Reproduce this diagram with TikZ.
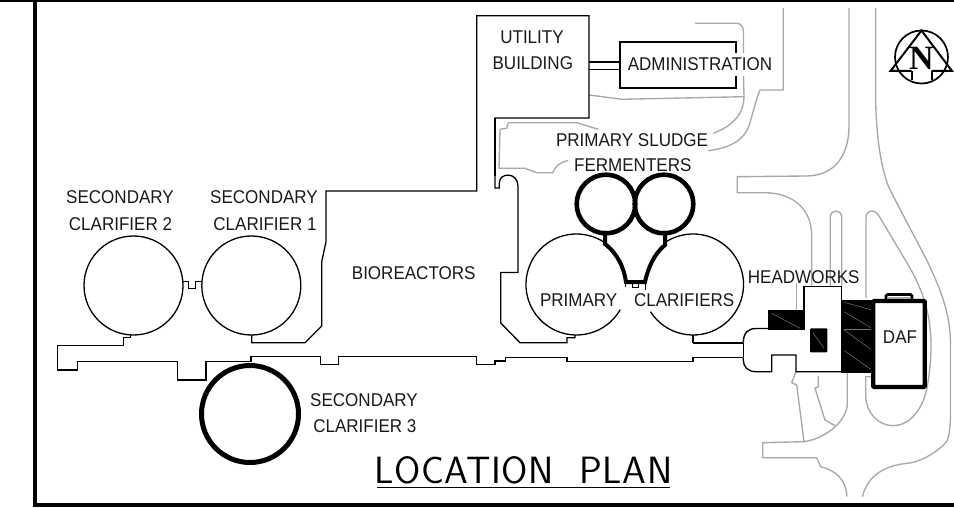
\documentclass[tikz,border=0pt]{standalone}
\usepackage{fontspec}
\setmainfont{Liberation Sans}
\newfontfamily\northfont{Liberation Serif}
\newfontfamily\lblfont[FakeStretch=0.92]{Liberation Sans}
\setsansfont{Latin Modern Sans}
\definecolor{roadgray}{HTML}{A8A8A8}
\begin{document}
\begin{tikzpicture}[x=1pt,y=-1pt,line join=miter,
  outline/.style={draw=black,line width=1.3pt},
  road/.style={draw=roadgray,line width=1.35pt},
  hatch/.style={draw=roadgray!70!black,line width=0.5pt},
  lbl/.style={inner sep=0pt,font=\lblfont\fontsize{18.5}{20}\selectfont,text=black!90}]
\useasboundingbox (0,0) rectangle (954,508);
\fill[white] (0,0) rectangle (954,508);
% roads
\draw[road] (695,23.3) -- (736.7,23.3) .. controls (741,23.3) and (743.5,27) .. (743.5,32) -- (743.5,53);
\draw[road] (743.5,76) -- (744,96.7) .. controls (744,112) and (735,125) .. (713.3,133.3);
\draw[road] (589.3,95) -- (621.7,99.3) -- (744,96.7);
\draw[road] (783.3,8) -- (783.3,90) -- (760,90) -- (757,98) -- (749,126) .. controls (744,140) and (730,148) .. (708.3,150.7);
\draw[road] (849,8) -- (849,126) .. controls (849,155) and (835,176) .. (806,176) -- (737.3,176.7) -- (737.3,192.7) -- (765,192.7) .. controls (792,193) and (811.7,208) .. (811.7,236) -- (811.7,286.7);
\draw[road] (796.7,283) -- (796.7,310);
\draw[road] (830.3,286.7) -- (830.3,217) .. controls (830.3,209) and (841.7,209) .. (841.7,217) -- (841.7,286.7);
\draw[road] (866,298) -- (866,218) .. controls (866,209) and (875,209) .. (879,216) -- (903.3,256.7) .. controls (925,292) and (938,325) .. (927,388) .. controls (922,412) and (908,425.7) .. (893,425.7) .. controls (878,425.7) and (865.7,412) .. (865.7,396) -- (865.7,376.7) -- (872,376.7);
\draw[road] (875.7,8) -- (875.7,100) .. controls (876,130) and (880,168) .. (890,190) -- (926.7,260) .. controls (942,292) and (950.5,315) .. (950.5,345) -- (950.5,410) .. controls (950.5,425) and (950,432) .. (947,441) .. controls (940,450) and (925,460) .. (910,463) .. controls (885,465) and (868,475) .. (862.3,496.7);
\draw[road] (847.3,371.7) -- (847.3,405) .. controls (846,420) and (828,438) .. (804,441.7) -- (762.7,442.7) -- (762.7,457.7) -- (816.7,457.7) -- (820.7,466.7) .. controls (835,470) and (847,480) .. (846.7,496.7);
\draw[road] (796,371.7) -- (791.7,382.7) -- (796.7,385) -- (804,441.7);
\draw[road] (818.3,375.7) -- (818.3,386.7) -- (815,388.3) -- (825,420) -- (835,425.7);
\draw[road] (598.3,129.3) -- (576.7,122.7) -- (508.3,122.7) -- (506.7,128.3) -- (500,129.3) -- (499,168.3) -- (525,168.3) -- (536.7,172.7) -- (552.7,172.7) .. controls (555,167) and (560,161.5) .. (568.3,160.7);
% border
\draw[line width=3pt] (0,0.5) -- (954,0.5);
\draw[line width=4pt] (35.3,0) -- (35.3,505) -- (954,505);
% utility / bioreactor / secondary outline
\draw[outline] (251.7,335) -- (251.7,342.7) -- (305,342.7) -- (321.7,326) -- (321.7,261.7) -- (326,241.7) -- (326,191) -- (476.7,191) -- (476.7,15.7) -- (589,15.7) -- (589,118) -- (495,118) -- (495,188) -- (499.3,188) -- (499.3,183) .. controls (499.3,172) and (518,172) .. (518,186) -- (518,272.5) -- (500.7,272.5) -- (500.7,323) -- (520,342.7) -- (567,342.7) -- (567,337.7) -- (575,337.7) -- (575,335);
\draw[line width=1.8pt] (495,118) -- (495,176);
\draw[outline] (620.2,309.75) arc[start angle=-30,end angle=-302,radius=50.5pt];
\draw[outline] (650.5,311.7) arc[start angle=212.6,end angle=485,radius=50.5pt];
\node[circle,draw,line width=1.3pt,minimum size=99pt,inner sep=0pt] (sc2) at (133.5,285.5) {};
\node[circle,draw,line width=1.3pt,minimum size=99pt,inner sep=0pt] (sc1) at (251.3,285.5) {};
\draw[outline] (182.7,281.7) -- (188.3,281.7) -- (188.3,288.3) -- (195.7,288.3) -- (195.7,281.7) -- (202,281.7);
\draw[outline] (130.7,335) -- (130.7,337.3) -- (123.3,337.3) -- (123.3,345.7) -- (57.7,345.7) -- (57.7,370) -- (77.7,370) -- (77.7,361.7) -- (177.7,361.7) -- (177.7,380) -- (206,380) -- (206,361.7) -- (251,361.7) -- (251,356.7) -- (320.7,356.7) -- (320.7,364.7) -- (338.7,364.7) -- (338.7,356.7) -- (476.7,356.7) -- (476.7,364.7) -- (495,364.7) -- (495,361) -- (505.7,361) -- (505.7,357.3) -- (567,357.3) -- (567,361.7) -- (693,361.7) -- (693,357.3) -- (743.3,357.3);
\draw[outline] (693,335) -- (693,342.7);
\draw[line width=1.7pt] (692.5,342.7) -- (743.3,342.7);
% administration
\draw[line width=1.6pt] (736,53) -- (736,42.3) -- (620,42.3) -- (620,88.3) -- (736,88.3) -- (736,76);
\draw[outline] (589,62) -- (620,62);
\draw[outline] (589,69.3) -- (620,69.3);
% fermenters
\node[circle,draw,line width=4.6pt,minimum size=58.5pt,inner sep=0pt] (f1) at (606,204) {};
\node[circle,draw,line width=4.6pt,minimum size=58.5pt,inner sep=0pt] (f2) at (664,204) {};
\draw[line width=4pt] (605,231) -- (605,244) .. controls (618,254) and (624,268) .. (626,282) -- (645,282) .. controls (648,268) and (654,254) .. (665,245) -- (665,231);
\draw[line width=0.9pt] (632,283) -- (632,287.5) -- (638.5,287.5) -- (638.5,283);
\draw[line width=0.9pt] (625,283) -- (625,287);
\draw[line width=0.9pt] (645,283) -- (645,290);
% secondary clarifier 3
\node[circle,draw,line width=5pt,minimum size=97pt,inner sep=0pt] (sc3) at (250,414) {};
% headworks
\draw[outline] (743.3,342.7) -- (743.3,357.3);
\draw[line width=1.4pt] (743.3,342.7) .. controls (743.3,333) and (748,328.5) .. (756,328.5) -- (768.3,328.5);
\draw[outline] (743.3,357.3) -- (743.3,360) .. controls (743.3,367) and (748,371.7) .. (756,371.7) -- (771.7,371.7) -- (771.7,355) -- (796,355) -- (796,371.7) -- (842,371.7);
\draw[outline] (804,310) -- (804,286.7) -- (841.7,286.7) -- (841.7,300);
\fill[black] (767.5,310) rectangle (804.5,330);
\draw[hatch] (771.7,313.3) -- (800,328.3);
\fill[black,rounded corners=1pt] (810,328.3) rectangle (827.3,352.3);
\draw[hatch] (813.3,333.3) -- (824,348.3);
\fill[black] (841,300) rectangle (875,372.7);
\draw[hatch] (844.3,302.3) -- (871.7,310);
\draw[hatch] (844.3,311.7) -- (871.7,328.3);
\draw[hatch] (844.3,329.3) -- (871.7,329.3);
\draw[hatch] (844.3,330) -- (871.7,350);
\draw[hatch] (844.3,350.7) -- (871.7,370);
% DAF
\draw[line width=4.2pt,rounded corners=0.8pt] (873.3,301) rectangle (924.7,387);
\draw[line width=2.8pt,rounded corners=1.5pt] (886,300) -- (886,294.5) -- (912,294.5) -- (912,300);
\draw[road] (888,298) -- (910,298);
% north arrow
\node[circle,draw,line width=1.7pt,minimum size=53pt,inner sep=0pt] (ncirc) at (921.5,57) {};
\draw[line width=2pt] (911.7,71) -- (890.5,71) -- (921.5,30.5) -- (952,71) -- (931.7,71);
\draw[line width=1.6pt] (911.7,71) -- (911.7,80.5);
\draw[line width=1.6pt] (931.7,71) -- (931.7,80.5);
\node[inner sep=0pt,font=\northfont\bfseries\fontsize{34}{34}\selectfont] (northlabel) at (921.5,58.5) {N};
% labels
\node[lbl] (t1a) at (120,197) {SECONDARY};
\node[lbl] (t1b) at (120.5,224) {CLARIFIER 2};
\node[lbl] (t2a) at (264,197) {SECONDARY};
\node[lbl] (t2b) at (265,224) {CLARIFIER 1};
\node[lbl] (t3) at (413.7,272.7) {BIOREACTORS};
\node[lbl] (t4a) at (532,37.5) {UTILITY};
\node[lbl] (t4b) at (532.8,63.5) {BUILDING};
\node[lbl] (t5) at (700,64) {ADMINISTRATION};
\node[lbl] (t6a) at (632,140) {PRIMARY SLUDGE};
\node[lbl] (t6b) at (632.8,165) {FERMENTERS};
\node[lbl] (t7a) at (578.7,300) {PRIMARY};
\node[lbl] (t7b) at (684.2,300) {CLARIFIERS};
\node[lbl] (t8) at (803.7,277.3) {HEADWORKS};
\node[lbl] (t9) at (900,336.7) {DAF};
\node[lbl] (t10a) at (364,400) {SECONDARY};
\node[lbl] (t10b) at (364.8,425.7) {CLARIFIER 3};
\node[inner sep=0pt,anchor=base,font=\sffamily\fontsize{38}{38}\selectfont\addfontfeature{LetterSpace=1.8}] (title) at (523.3,483.3) {LOCATION\ \ PLAN};
\draw[line width=1.5pt] (376.7,487.7) -- (670,487.7);
\end{tikzpicture}
\end{document}
